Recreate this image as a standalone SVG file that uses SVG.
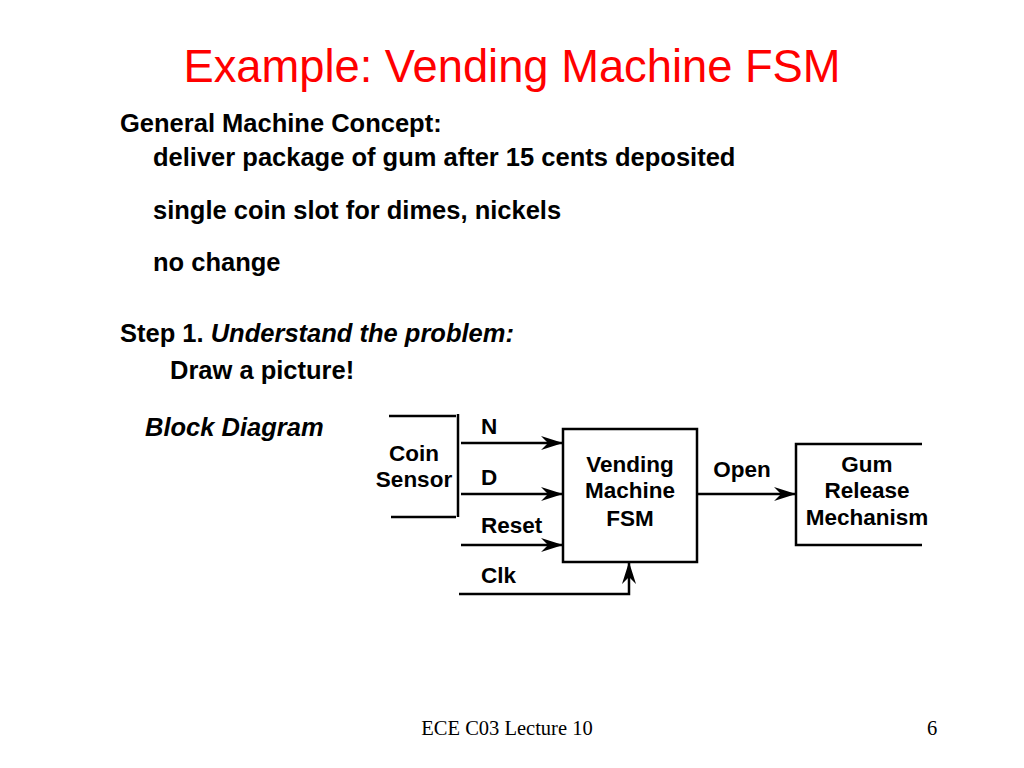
<svg xmlns="http://www.w3.org/2000/svg" width="1024" height="768" viewBox="0 0 1024 768">
<style>
.t{font-family:"Liberation Sans",Arial,sans-serif;font-weight:bold;fill:#000}
.b{font-size:25.5px}
.d{font-size:22.5px}
.ln{stroke:#000;stroke-width:2.5;fill:none}
.ar{stroke:#000;stroke-width:2.5;fill:none;marker-end:url(#ah)}
.f{font-family:"Liberation Serif","Times New Roman",serif;font-size:20.5px;fill:#000}
</style>
<defs>
<marker id="ah" viewBox="0 0 22 14" refX="21" refY="7" markerWidth="22" markerHeight="14" markerUnits="userSpaceOnUse" orient="auto">
<path d="M0,0 L22,7 L0,14 L7,7 Z" fill="#000"/>
</marker>
</defs>
<rect width="1024" height="768" fill="#fff"/>
<text x="512" y="82" text-anchor="middle" font-family="Liberation Sans,Arial,sans-serif" font-size="45.3" fill="#ff0000">Example: Vending Machine FSM</text>
<g id="text-body">
<text class="t b" x="120" y="132">General Machine Concept:</text>
<text class="t b" x="153" y="166">deliver package of gum after 15 cents deposited</text>
<text class="t b" x="153" y="219">single coin slot for dimes, nickels</text>
<text class="t b" x="153" y="271">no change</text>
<text class="t b" x="120" y="342">Step 1. <tspan font-style="italic">Understand the problem:</tspan></text>
<text class="t b" x="170" y="379">Draw a picture!</text>
<text class="t b" x="145" y="436" font-style="italic">Block Diagram</text>
</g>
<g id="coin-sensor">
<path class="ln" d="M389,416 H456 M458,414 V517 M391,517 H456"/>
<text class="t d" x="414" y="461" text-anchor="middle">Coin</text>
<text class="t d" x="414" y="487" text-anchor="middle">Sensor</text>
</g>
<g id="fsm">
<rect class="ln" x="563" y="429" width="134" height="133"/>
<text class="t d" x="630" y="472" text-anchor="middle">Vending</text>
<text class="t d" x="630" y="498" text-anchor="middle">Machine</text>
<text class="t d" x="630" y="526" text-anchor="middle">FSM</text>
</g>
<g id="gum-release">
<path class="ln" d="M922,444 H796 V545 H922"/>
<text class="t d" x="867" y="472" text-anchor="middle">Gum</text>
<text class="t d" x="867" y="498" text-anchor="middle">Release</text>
<text class="t d" x="867" y="525" text-anchor="middle">Mechanism</text>
</g>
<g id="connectors">
<path class="ar" d="M461,443 H562"/>
<path class="ar" d="M461,494 H562"/>
<path class="ar" d="M461,545 H562"/>
<path class="ar" d="M459,594 H629 V563"/>
<path class="ar" d="M697,494 H795"/>
<text class="t d" x="481" y="434">N</text>
<text class="t d" x="481" y="485">D</text>
<text class="t d" x="481" y="533">Reset</text>
<text class="t d" x="481" y="583">Clk</text>
<text class="t d" x="742" y="477" text-anchor="middle">Open</text>
</g>
<text class="f" x="507" y="735" text-anchor="middle">ECE C03 Lecture 10</text>
<text class="f" x="932" y="735" text-anchor="middle">6</text>
</svg>
